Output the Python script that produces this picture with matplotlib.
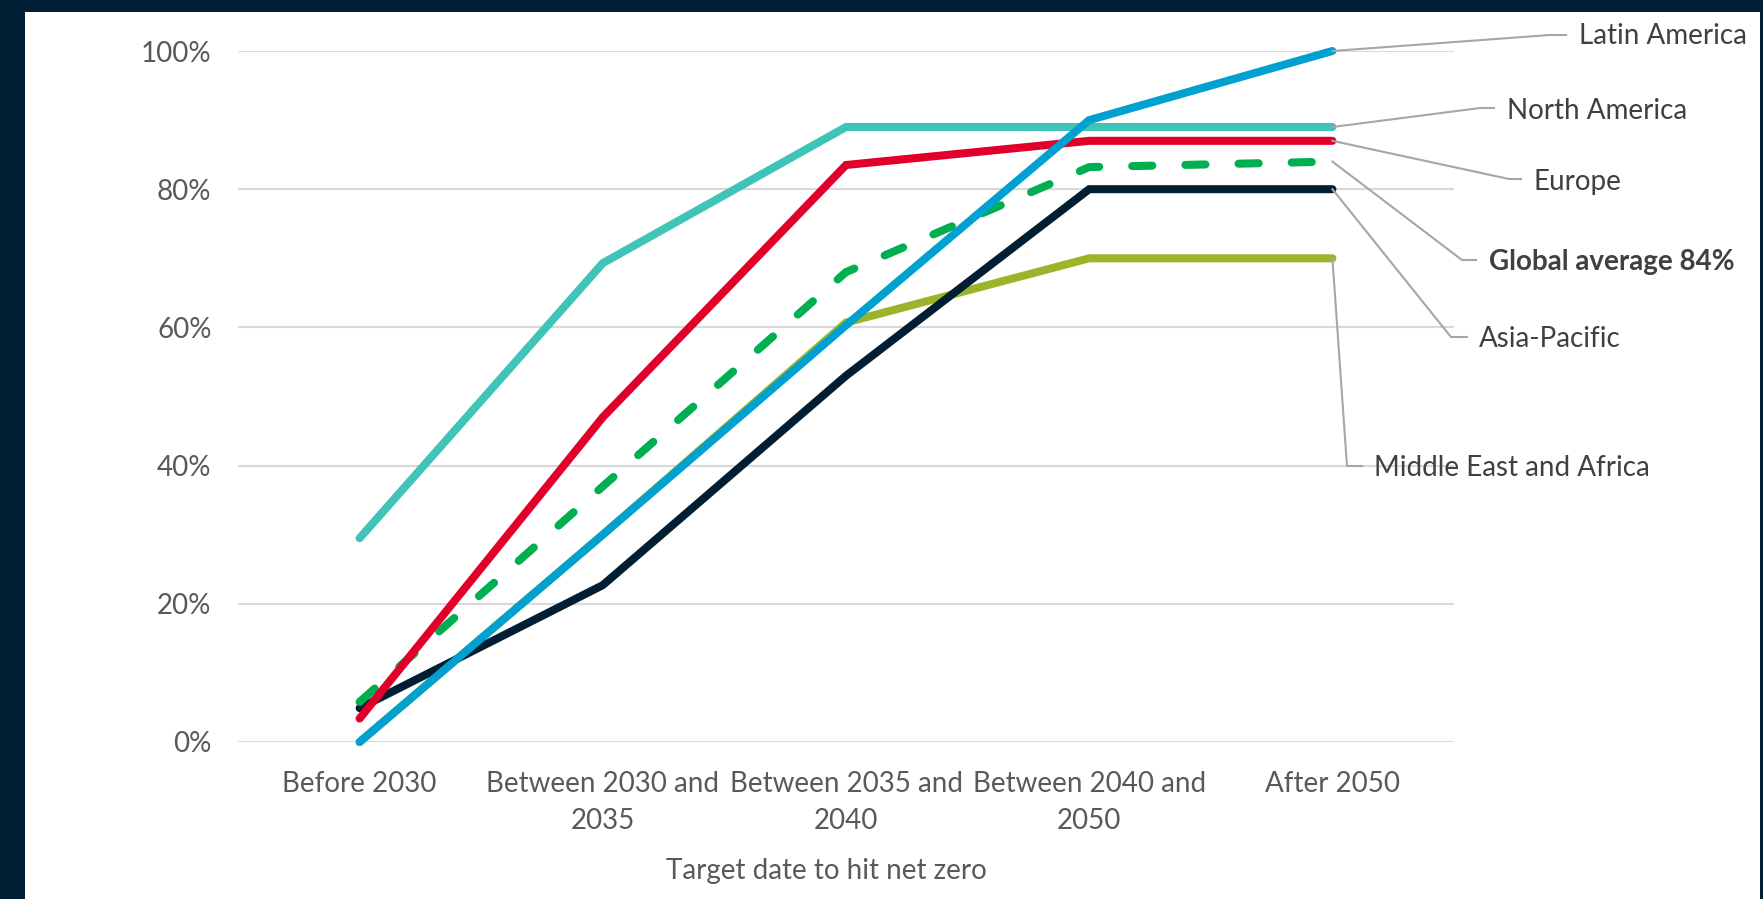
import matplotlib
matplotlib.use("Agg")
import matplotlib.pyplot as plt
from matplotlib.lines import Line2D
from matplotlib.patches import Rectangle

# ---- data -------------------------------------------------------------
categories = [
    "Before 2030",
    "Between 2030 and\n2035",
    "Between 2035 and\n2040",
    "Between 2040 and\n2050",
    "After 2050",
]
latin_america = [0, 30, 60.3, 90, 100]
north_america = [29.5, 69.3, 89, 89, 89]
europe = [3.4, 47, 83.5, 87, 87]
global_average = [5.8, 37, 68, 83.2, 84]
asia_pacific = [4.9, 22.7, 53, 80, 80]
middle_east_africa = [0, 30, 60.7, 70, 70]
y_ticks = [0, 20, 40, 60, 80, 100]
x_title = "Target date to hit net zero"

# ---- figure geometry (pixels) ----------------------------------------
W, H = 1763, 899
DPI = 100
NAVY = "#001e34"
TICK_GREY = "#595959"
LABEL_GREY = "#404040"
LEADER_GREY = "#a6a6a6"
FONT = "Lato"

plt.rcParams["font.family"] = [FONT, "DejaVu Sans"]

fig = plt.figure(figsize=(W / DPI, H / DPI), dpi=DPI, facecolor=NAVY)
fig.add_artist(Rectangle((24.5 / W, 0), (1760 - 24.5) / W, (H - 12) / H,
                         transform=fig.transFigure, facecolor="white",
                         edgecolor="none", zorder=-5))

ax = fig.add_axes([238 / W, (H - 742) / H, (1454 - 238) / W, (742 - 51) / H])
ax.set_facecolor("none")
ax.set_xlim(-0.5, len(categories) - 0.5)
ax.set_ylim(0, 100)

for s in ax.spines.values():
    s.set_visible(False)
ax.set_yticks(y_ticks)
ax.set_yticklabels([f"{t}%" for t in y_ticks], color=TICK_GREY, fontsize=20)
ax.set_xticks(range(len(categories)))
ax.set_xticklabels(categories, color=TICK_GREY, fontsize=20, linespacing=1.52)
ax.tick_params(axis="both", length=0)
ax.tick_params(axis="y", pad=19)
ax.tick_params(axis="x", pad=21)
ax.yaxis.grid(True, color="#d9d9d9", linewidth=1.5)
ax.set_axisbelow(True)

x = list(range(len(categories)))
LW = 5.8
common = dict(linewidth=LW, clip_on=False, solid_capstyle="round",
              solid_joinstyle="miter")
ax.plot(x, middle_east_africa, color="#9bb52a", zorder=2, **common)
ax.plot(x, asia_pacific, color="#021e33", zorder=3, **common)
ax.plot(x, global_average, color="#00b050", zorder=4, linewidth=LW,
        clip_on=False, dashes=(2.5, 4.1), dash_capstyle="round")
ax.plot(x, europe, color="#e2002b", zorder=5, **common)
ax.plot(x, north_america, color="#40c4b8", zorder=6, **common)
ax.plot(x, latin_america, color="#00a1d0", zorder=7, **common)

fig.text(826 / W, 1 - 871 / H, x_title, ha="center", va="center",
         fontsize=20, color=TICK_GREY)

# ---- leader lines and series labels -----------------------------------
# (series end value, bend x, horizontal end x, line y, text x, text y, bold)
callouts = [
    ("Latin America", latin_america[-1], 1550, 1566, 35, 1579, 36, False),
    ("North America", north_america[-1], 1480, 1494, 108, 1507, 111, False),
    ("Europe", europe[-1], 1509, 1521, 179, 1534, 182, False),
    ("Global average 84%", global_average[-1], 1462, 1476, 260, 1489, 262, True),
    ("Asia-Pacific", asia_pacific[-1], 1451, 1467, 337, 1479, 339, False),
    ("Middle East and Africa", middle_east_africa[-1], 1347, 1362, 466, 1374, 468, False),
]

to_fig = fig.transFigure.inverted()
for text, v, bx, hx, ly, tx, ty, bold in callouts:
    sx, sy = to_fig.transform(ax.transData.transform((x[-1], v)))
    xs = [sx, bx / W, hx / W]
    ys = [sy, 1 - ly / H, 1 - ly / H]
    fig.add_artist(Line2D(xs, ys, transform=fig.transFigure, color=LEADER_GREY,
                          linewidth=1.5, zorder=1))
    fig.text(tx / W, 1 - ty / H, text, ha="left", va="center", fontsize=20,
             color=LABEL_GREY, fontweight="bold" if bold else "normal")

fig.savefig("out.png", dpi=DPI, facecolor=NAVY)
